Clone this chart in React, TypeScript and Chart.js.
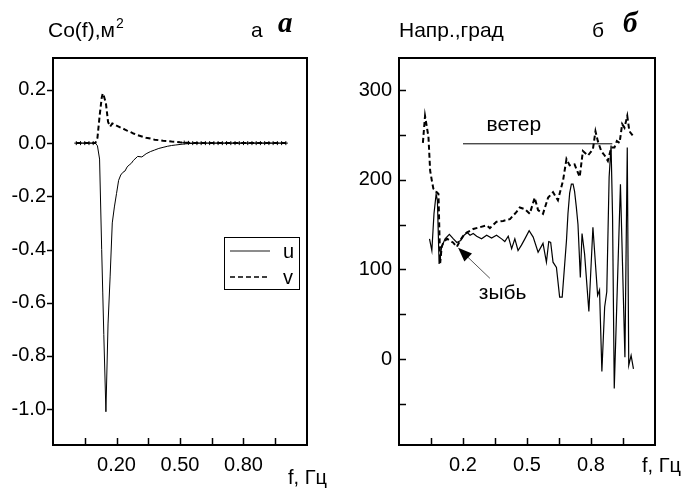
import React, { useEffect, useRef } from "react";
import { Chart, registerables } from "chart.js";

Chart.register(...registerables);

// ---------- Panel a: co-spectrum Co(f) ----------
const freqA = [
  0.01, 0.03, 0.05, 0.07, 0.09,
  0.10, 0.11, 0.12, 0.13, 0.135, 0.14,
  0.15, 0.16, 0.17, 0.18, 0.19, 0.20, 0.21, 0.22, 0.23, 0.24, 0.25, 0.26, 0.27, 0.28,
  0.30, 0.32, 0.34, 0.36, 0.38, 0.40, 0.42, 0.44, 0.46, 0.48, 0.50, 0.52, 0.54, 0.56,
  0.58, 0.60, 0.62, 0.64, 0.66, 0.68, 0.70, 0.72, 0.74, 0.76, 0.78, 0.80, 0.82, 0.84,
  0.86, 0.88, 0.90, 0.92, 0.94, 0.96, 0.98, 1.00,
];
const coU = [
  0, 0, 0, 0, 0,
  0, -0.01, -0.06, -0.40, -0.56, -0.72,
  -1.01, -0.68, -0.50, -0.30, -0.24, -0.19, -0.14, -0.12, -0.11, -0.105, -0.09, -0.082, -0.076, -0.065,
  -0.05, -0.052, -0.04, -0.032, -0.026, -0.02, -0.016, -0.012, -0.009, -0.007, -0.005, -0.003, -0.002, -0.001,
  0, 0, 0, 0, 0, 0, 0, 0, 0, 0, 0, 0, 0, 0,
  0, 0, 0, 0, 0, 0, 0, 0,
];
const coV = [
  0, 0, 0, 0, 0,
  0, 0.02, 0.10, 0.17, 0.187, 0.178,
  0.15, 0.08, 0.062, 0.074, 0.07, 0.066, 0.062, 0.058, 0.055, 0.051, 0.047, 0.044, 0.04, 0.036,
  0.03, 0.025, 0.02, 0.017, 0.013, 0.011, 0.009, 0.008, 0.006, 0.005, 0.003, 0.002, 0.001, 0,
  0, 0, 0, 0, 0, 0, 0, 0, 0, 0, 0, 0, 0, 0,
  0, 0, 0, 0, 0, 0, 0, 0,
];
const xTickValues = [0.05, 0.2, 0.35, 0.5, 0.65, 0.8, 0.95];
const xTickLabelsA = ["", "0.20", "", "0.50", "", "0.80", ""];
const yTicksA = [-1.0, -0.8, -0.6, -0.4, -0.2, 0, 0.2];
const yLabelsA = ["-1.0", "-0.8", "-0.6", "-0.4", "-0.2", "0.0", "0.2"];

// ---------- Panel б: direction, degrees ----------
const dirVFreq = [
  0.012, 0.022, 0.038, 0.046, 0.054, 0.061, 0.077, 0.085, 0.093, 0.100,
  0.108, 0.125, 0.139, 0.153, 0.171, 0.186, 0.200, 0.217, 0.233, 0.248,
  0.279, 0.311, 0.326, 0.357, 0.388, 0.420, 0.451, 0.466, 0.490, 0.513,
  0.536, 0.552, 0.575, 0.599, 0.622, 0.645, 0.669, 0.685, 0.700, 0.723,
  0.747, 0.762, 0.786, 0.809, 0.821, 0.832, 0.848, 0.864, 0.879, 0.895,
  0.910, 0.921, 0.934, 0.946, 0.957, 0.970, 0.980, 0.996,
];
const dirV = [
  241, 271, 248, 210, 199, 190, 186, 184, 107, 125,
  130, 134, 132, 130, 125, 132, 137, 141, 143, 145,
  147, 149, 146, 153, 154, 156, 164, 169, 167, 162,
  180, 166, 162, 180, 186, 177, 199, 223, 216, 217,
  203, 232, 227, 234, 254, 243, 232, 227, 221, 236,
  236, 243, 241, 262, 258, 271, 254, 249,
];
const dirUFreq = [
  0.043, 0.054, 0.064, 0.074, 0.080, 0.088, 0.100, 0.116, 0.136, 0.155,
  0.171, 0.189, 0.205, 0.220, 0.233, 0.248, 0.264, 0.287, 0.311, 0.334,
  0.357, 0.381, 0.396, 0.412, 0.428, 0.443, 0.458, 0.474, 0.490, 0.510,
  0.529, 0.552, 0.575, 0.591, 0.602, 0.611, 0.622, 0.638, 0.653, 0.665,
  0.685, 0.692, 0.700, 0.708, 0.716, 0.723, 0.731, 0.739, 0.750, 0.758,
  0.770, 0.790, 0.809, 0.831, 0.840, 0.851, 0.864, 0.874, 0.885, 0.894,
  0.901, 0.909, 0.938, 0.959, 0.970, 0.977, 0.988, 0.999,
];
const dirU = [
  134, 121, 162, 184, 177, 106, 125, 134, 139, 134,
  130, 132, 138, 141, 138, 140, 137, 134, 138, 135,
  138, 134, 131, 137, 123, 134, 121, 127, 134, 143,
  136, 119, 129, 108, 131, 130, 108, 102, 69, 69,
  132, 162, 185, 195, 195, 187, 170, 150, 91, 140,
  117, 53, 147, 71, 77, -14, 58, 75, 203, 238,
  160, -33, 195, 2, 236, -7, 4, -11,
];
const windFreq = [0.2, 0.9];
const windDir = [240, 240];
const swellArrowTip = { x: 0.177, y: 124 };
const swellArrowTail = { x: 0.326, y: 90 };
const windLabelPos = { x: 0.31, y: 254 };
const swellLabelPos = { x: 0.274, y: 67 };
const xTickLabelsB = ["", "0.2", "", "0.5", "", "0.8", ""];
const yTicksB = [-50, 0, 50, 100, 150, 200, 250, 300];
const yLabelsB = ["", "0", "", "100", "", "200", "", "300"];

const SANS = "'Liberation Sans', Arial, sans-serif";
const SERIF = "'Liberation Serif', 'Times New Roman', serif";

function line(ctx: CanvasRenderingContext2D, x1: number, y1: number, x2: number, y2: number) {
  ctx.beginPath();
  ctx.moveTo(x1, y1);
  ctx.lineTo(x2, y2);
  ctx.stroke();
}

function drawFrame(chart: any, yTicks: number[], yInward: boolean) {
  const ctx: CanvasRenderingContext2D = chart.ctx;
  const a = chart.chartArea;
  ctx.save();
  ctx.strokeStyle = "#000";
  ctx.lineWidth = 2;
  ctx.strokeRect(a.left, a.top, a.right - a.left, a.bottom - a.top);
  ctx.lineWidth = 1.5;
  yTicks.forEach((v) => {
    const y = Math.round(chart.scales.y.getPixelForValue(v)) + 0.5;
    if (yInward) line(ctx, a.left, y, a.left + 7, y);
    else line(ctx, a.left - 6, y, a.left, y);
  });
  xTickValues.forEach((v) => {
    const x = Math.round(chart.scales.x.getPixelForValue(v)) + 0.5;
    line(ctx, x, a.bottom, x, a.bottom - 7);
  });
  ctx.restore();
}

const tickFont = { family: SANS, size: 20 };

function baseScales(yMin: number, yMax: number, yW: number, yTicks: number[], yLabels: string[], xLabels: string[]) {
  return {
    x: {
      type: "linear",
      min: -0.1,
      max: 1.1,
      afterBuildTicks: (s: any) => {
        s.ticks = xTickValues.map((v) => ({ value: v }));
      },
      afterFit: (s: any) => {
        s.height = 45;
      },
      grid: { display: false, drawTicks: false },
      border: { display: false },
      ticks: {
        autoSkip: false,
        maxRotation: 0,
        padding: 8,
        color: "#000",
        font: tickFont,
        callback: (_v: any, i: number) => xLabels[i],
      },
    },
    y: {
      type: "linear",
      min: yMin,
      max: yMax,
      afterBuildTicks: (s: any) => {
        s.ticks = yTicks.map((v) => ({ value: v }));
      },
      afterFit: (s: any) => {
        s.width = yW;
      },
      grid: { display: false, drawTicks: false },
      border: { display: false },
      ticks: {
        autoSkip: false,
        padding: 7,
        color: "#000",
        font: tickFont,
        callback: (_v: any, i: number) => yLabels[i],
      },
    },
  };
}

function leftConfig(): any {
  const decor = {
    id: "decorA",
    afterDraw(chart: any) {
      drawFrame(chart, yTicksA, false);
      const ctx: CanvasRenderingContext2D = chart.ctx;
      ctx.save();
      ctx.fillStyle = "#000";
      ctx.textBaseline = "alphabetic";
      ctx.textAlign = "left";
      ctx.font = `21px ${SANS}`;
      ctx.fillText("Co(f),м", 48, 37);
      const w = ctx.measureText("Co(f),м").width;
      ctx.font = `14px ${SANS}`;
      ctx.fillText("2", 48 + w + 1, 28);
      ctx.font = `21px ${SANS}`;
      ctx.fillText("а", 251, 37);
      ctx.font = `bold italic 29px ${SERIF}`;
      ctx.fillText("a", 278, 32);
      ctx.font = `20px ${SANS}`;
      ctx.fillText("f, Гц", 288, 484);
      // legend
      ctx.strokeStyle = "#000";
      ctx.lineWidth = 1;
      ctx.strokeRect(224.5, 237.5, 75, 52);
      ctx.strokeStyle = "#666";
      ctx.lineWidth = 1.5;
      line(ctx, 230, 251, 270, 251);
      ctx.strokeStyle = "#000";
      ctx.setLineDash([5, 3]);
      line(ctx, 230, 277, 270, 277);
      ctx.setLineDash([]);
      ctx.font = `20px ${SANS}`;
      ctx.fillText(chart.data.datasets[0].label, 283, 258);
      ctx.fillText(chart.data.datasets[1].label, 283, 284);
      ctx.restore();
    },
  };
  return {
    type: "line",
    data: {
      datasets: [
        {
          label: "u",
          data: freqA.map((f, i) => ({ x: f, y: coU[i] })),
          borderColor: "#000",
          borderWidth: 1,
          pointRadius: 0,
          tension: 0,
        },
        {
          label: "v",
          data: freqA.map((f, i) => ({ x: f, y: coV[i] })),
          borderColor: "#000",
          borderWidth: 2,
          borderDash: [5, 3],
          pointStyle: "cross",
          pointRadius: (c: any) => {
            const f = freqA[c.dataIndex];
            return f < 0.095 || f > 0.51 ? 2 : 0;
          },
          pointBorderColor: "#000",
          pointBorderWidth: 1,
          tension: 0,
        },
      ],
    },
    options: {
      responsive: false,
      animation: false,
      layout: { padding: { top: 58, right: 33, bottom: 0, left: 0 } },
      plugins: { legend: { display: false }, tooltip: { enabled: false }, title: { display: false } },
      scales: baseScales(-1.135, 0.32, 53, yTicksA, yLabelsA, xTickLabelsA),
    },
    plugins: [decor],
  };
}

function rightConfig(): any {
  const decor = {
    id: "decorB",
    afterDraw(chart: any) {
      drawFrame(chart, yTicksB, true);
      const ctx: CanvasRenderingContext2D = chart.ctx;
      const sx = chart.scales.x;
      const sy = chart.scales.y;
      ctx.save();
      ctx.fillStyle = "#000";
      ctx.textBaseline = "alphabetic";
      ctx.textAlign = "left";
      ctx.font = `21px ${SANS}`;
      ctx.fillText("Напр.,град", 59, 37);
      ctx.fillText("б", 252, 37);
      ctx.font = `bold italic 29px ${SERIF}`;
      ctx.fillText("б", 283, 32);
      ctx.font = `20px ${SANS}`;
      ctx.fillText("f, Гц", 302, 472);
      ctx.font = `21px ${SANS}`;
      ctx.fillText("ветер", sx.getPixelForValue(windLabelPos.x), sy.getPixelForValue(windLabelPos.y));
      ctx.fillText("зыбь", sx.getPixelForValue(swellLabelPos.x), sy.getPixelForValue(swellLabelPos.y));
      // arrow
      const tx = sx.getPixelForValue(swellArrowTip.x);
      const ty = sy.getPixelForValue(swellArrowTip.y);
      const bx = sx.getPixelForValue(swellArrowTail.x);
      const by = sy.getPixelForValue(swellArrowTail.y);
      const ang = Math.atan2(ty - by, tx - bx);
      ctx.strokeStyle = "#555";
      ctx.lineWidth = 1;
      line(ctx, bx, by, tx - 8 * Math.cos(ang), ty - 8 * Math.sin(ang));
      const L = 14, W = 5.5;
      const hx = tx - L * Math.cos(ang);
      const hy = ty - L * Math.sin(ang);
      ctx.beginPath();
      ctx.moveTo(tx, ty);
      ctx.lineTo(hx + W * Math.sin(ang), hy - W * Math.cos(ang));
      ctx.lineTo(hx - W * Math.sin(ang), hy + W * Math.cos(ang));
      ctx.closePath();
      ctx.fill();
      ctx.restore();
    },
  };
  return {
    type: "line",
    data: {
      datasets: [
        {
          label: "v",
          data: dirVFreq.map((f, i) => ({ x: f, y: dirV[i] })),
          borderColor: "#000",
          borderWidth: 2,
          borderDash: [5, 3],
          pointRadius: 0,
          tension: 0,
        },
        {
          label: "u",
          data: dirUFreq.map((f, i) => ({ x: f, y: dirU[i] })),
          borderColor: "#000",
          borderWidth: 1.2,
          pointRadius: 0,
          tension: 0,
        },
        {
          label: "ветер",
          data: windFreq.map((f, i) => ({ x: f, y: windDir[i] })),
          borderColor: "#000",
          borderWidth: 1,
          pointRadius: 0,
        },
      ],
    },
    options: {
      responsive: false,
      animation: false,
      layout: { padding: { top: 58, right: 30, bottom: 0, left: 0 } },
      plugins: { legend: { display: false }, tooltip: { enabled: false }, title: { display: false } },
      scales: baseScales(-95.9, 335.7, 59, yTicksB, yLabelsB, xTickLabelsB),
    },
    plugins: [decor],
  };
}

export default function App() {
  const leftRef = useRef<HTMLCanvasElement>(null);
  const rightRef = useRef<HTMLCanvasElement>(null);
  useEffect(() => {
    const c1 = new Chart(leftRef.current as HTMLCanvasElement, leftConfig());
    const c2 = new Chart(rightRef.current as HTMLCanvasElement, rightConfig());
    return () => {
      c1.destroy();
      c2.destroy();
    };
  }, []);
  return (
    <div style={{ position: "absolute", left: 0, top: 0, width: 685, height: 490, background: "#fff", overflow: "hidden" }}>
      <canvas ref={leftRef} width={340} height={490} style={{ position: "absolute", left: 0, top: 0, width: 340, height: 490 }} />
      <canvas ref={rightRef} width={345} height={490} style={{ position: "absolute", left: 340, top: 0, width: 345, height: 490 }} />
    </div>
  );
}
